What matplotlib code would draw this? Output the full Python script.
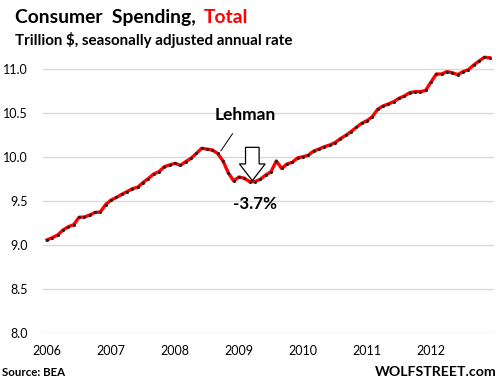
import numpy as np
import matplotlib
matplotlib.use("Agg")
import matplotlib.pyplot as plt
import matplotlib.patches as mpatches

plt.rcParams['font.family'] = ['Lato', 'DejaVu Sans']

# monthly, Jan 2006 .. Dec 2012, trillion $ (SAAR)
spending = [9.057, 9.083, 9.114, 9.170, 9.208, 9.230, 9.315, 9.318, 9.340, 9.370, 9.375, 9.460,
            9.510, 9.540, 9.575, 9.606, 9.640, 9.656, 9.710, 9.755, 9.807, 9.833, 9.890, 9.910,
            9.928, 9.905, 9.947, 9.985, 10.040, 10.099, 10.090, 10.080, 10.040, 9.955, 9.820, 9.728,
            9.773, 9.758, 9.720, 9.720, 9.747, 9.795, 9.833, 9.955, 9.870, 9.920, 9.940, 9.990,
            10.003, 10.020, 10.068, 10.090, 10.117, 10.136, 10.163, 10.208, 10.245, 10.288, 10.337, 10.383,
            10.413, 10.458, 10.542, 10.580, 10.602, 10.629, 10.667, 10.693, 10.731, 10.742, 10.742, 10.757,
            10.852, 10.943, 10.943, 10.970, 10.958, 10.936, 10.970, 10.992, 11.045, 11.090, 11.133, 11.128]
year_labels = ["2006", "2007", "2008", "2009", "2010", "2011", "2012"]
y_ticks = [8.0, 8.5, 9.0, 9.5, 10.0, 10.5, 11.0]

months = np.arange(len(spending))
year_pos = np.arange(len(year_labels)) * 12

fig = plt.figure(figsize=(5.04, 3.88), dpi=100)
ax = fig.add_axes([0.0853, 0.1418, 0.8947, 0.7257])
r = fig.canvas.get_renderer()


def fit_width(t, px):
    # scale a text's font size so it is about px pixels wide
    w = t.get_window_extent(r).width
    t.set_fontsize(t.get_fontsize() * px / w)
    return t


ax.plot(months, spending, color='#ff0000', lw=2.4, zorder=3)
ax.plot(months, spending, 'o', color='#222222', ms=2.2, mew=0, zorder=4)

ax.set_xlim(-0.75, 83.8)
ax.set_ylim(8.0, 11.2)
ax.set_yticks(y_ticks)
ax.set_yticklabels(["%.1f" % v for v in y_ticks])
ax.set_xticks(year_pos)
ax.set_xticklabels(year_labels)
ax.tick_params(length=0, labelsize=9, pad=9)
ax.tick_params(axis='y', pad=11)
ax.grid(axis='y', color='#d9d9d9', lw=1)
ax.set_axisbelow(True)
for s in ax.spines.values():
    s.set_visible(False)

# annotations
lt = ax.annotate("Lehman", xy=(32.6, 10.07), xytext=(37.2, 10.48), fontsize=13, fontweight='bold',
                 ha='center', va='center',
                 arrowprops=dict(arrowstyle='-', color='black', lw=0.7, shrinkA=7, shrinkB=0))
fit_width(lt, 61)
arrow = mpatches.FancyArrow(38.5, 10.11, 0, -0.379, width=2.55, head_width=4.82,
                            head_length=0.19, length_includes_head=True,
                            fc='white', ec='black', lw=0.9, zorder=5)
ax.add_patch(arrow)
pt = ax.text(39.0, 9.47, "-3.7%", fontsize=13, fontweight='bold', ha='center', va='center')
fit_width(pt, 44)

# titles
t1 = fig.text(0.03, 0.956, "Consumer  Spending,", fontsize=15.5, fontweight='bold', va='center')
fit_width(t1, 180)
bb = t1.get_window_extent(r)
x_total = (bb.x1 + 8) / fig.bbox.width
fig.text(x_total, 0.956, "Total", fontsize=t1.get_fontsize(), fontweight='bold', color='#ff0000', va='center')
t2 = fig.text(0.03, 0.898, "Trillion $, seasonally adjusted annual rate", fontsize=10.8, fontweight='bold', va='center')
fit_width(t2, 278)
t3 = fig.text(0.004, 0.039, "Source: BEA", fontsize=9, fontweight='bold', va='center')
fit_width(t3, 63)
t4 = fig.text(0.985, 0.041, "WOLFSTREET.com", fontsize=11, fontweight='bold', va='center', ha='right')
fit_width(t4, 121)

fig.savefig("out.png", dpi=100)
